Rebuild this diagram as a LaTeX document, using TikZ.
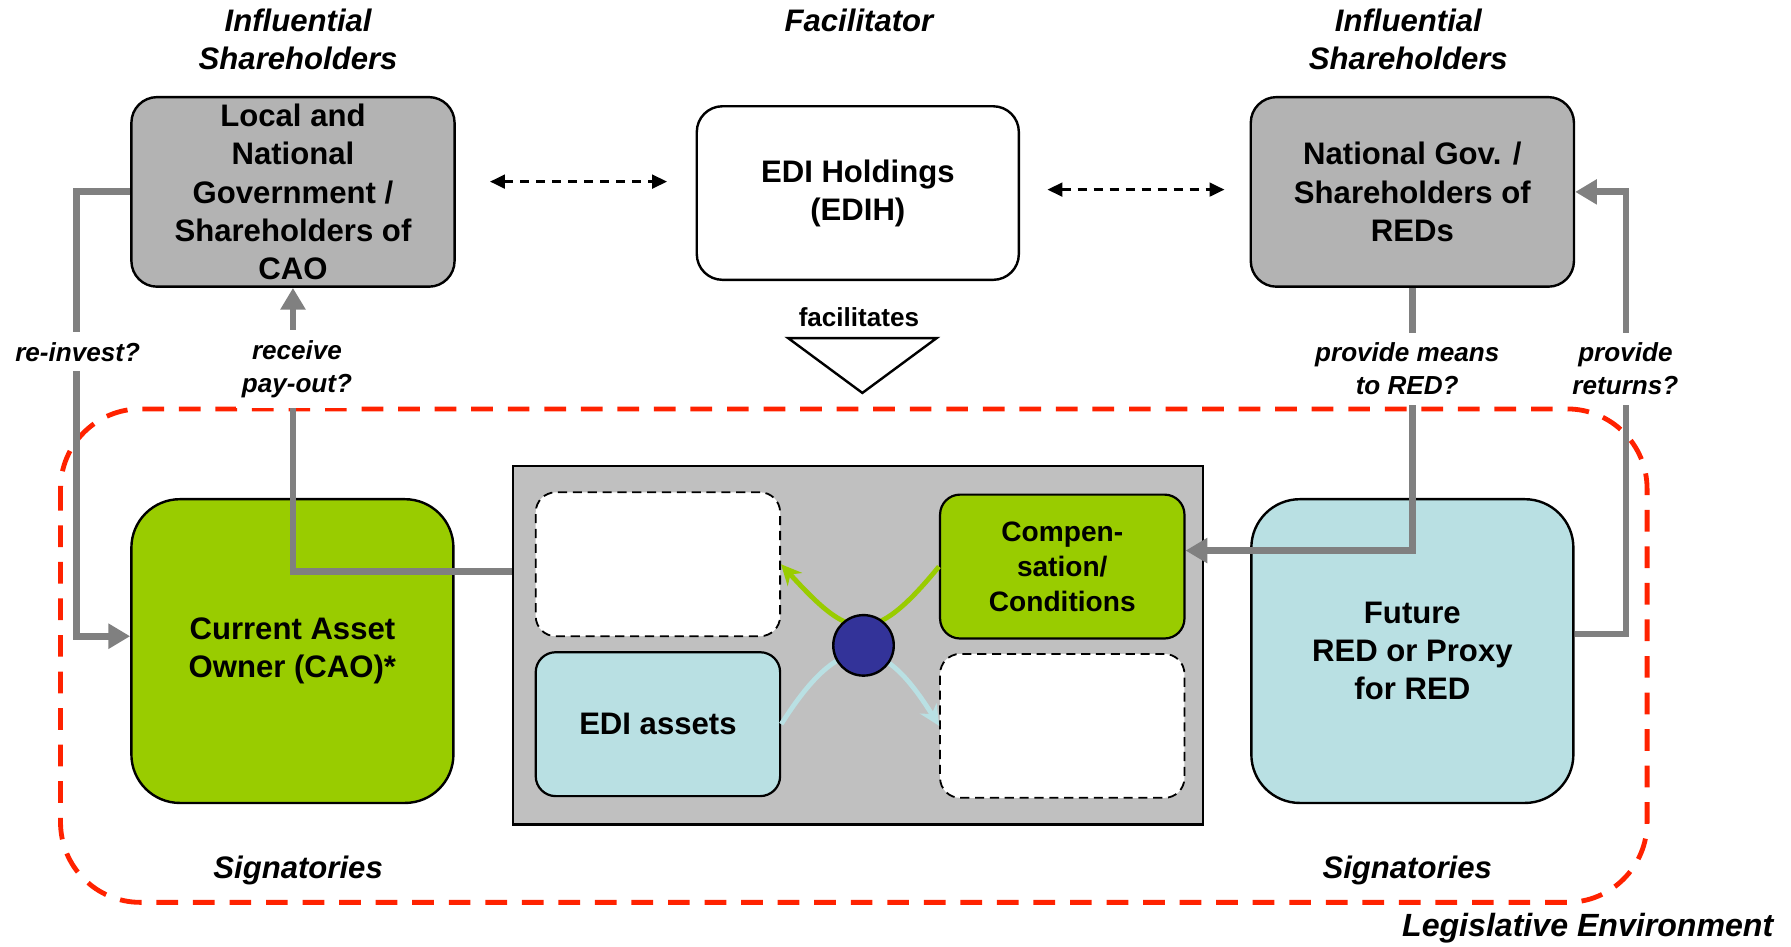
\documentclass[tikz,border=0pt]{standalone}
\usepackage{fontspec}
\setmainfont{Liberation Sans}
\usetikzlibrary{arrows.meta,calc}

\definecolor{leafgreen}{HTML}{99CC00}
\definecolor{paleblue}{HTML}{B9E0E3}
\definecolor{boxgray}{HTML}{B3B3B3}
\definecolor{panelgray}{HTML}{C0C0C0}
\definecolor{linkgray}{HTML}{808080}
\definecolor{hubblue}{HTML}{333399}
\definecolor{envred}{HTML}{FF2200}

\begin{document}
\begin{tikzpicture}[
    x=0.02cm, y=-0.02cm,
    every node/.style={align=center, inner sep=0pt},
    boxfont/.style={font=\fontsize{15.5}{19}\selectfont\bfseries},
    headfont/.style={font=\fontsize{15.5}{19}\selectfont\bfseries\itshape},
    actor/.style={draw, line width=1.2pt, rounded corners=0.45cm,
                  minimum width=5.66cm, minimum height=3.32cm, boxfont},
    party/.style={draw, line width=1.2pt, rounded corners=0.85cm,
                  minimum width=5.64cm, minimum height=5.32cm, boxfont},
    slot/.style={draw, line width=1.1pt, rounded corners=0.35cm,
                 minimum width=4.28cm, minimum height=2.52cm, boxfont},
    openslot/.style={slot, fill=white, line width=0.9pt,
                     dash pattern=on 0.16cm off 0.1cm},
    flow/.style={draw=linkgray, line width=3.4pt,
                 -{Triangle[length=0.38cm, width=0.42cm]}},
    flowlabel/.style={fill=white, inner xsep=3pt, inner ysep=5pt,
                      font=\fontsize{13}{16.5}\selectfont\bfseries\itshape},
    link/.style={line width=1.2pt, dash pattern=on 0.16cm off 0.12cm,
                 {Triangle[length=0.26cm, width=0.24cm]}-{Triangle[length=0.26cm, width=0.24cm]}},
    swap/.style={line width=2.4pt, -{Stealth[length=0.36cm, width=0.34cm]}},
]
\useasboundingbox (0,0) rectangle (1568,829);

\node[headfont] (lefthead) at (261,34.5) {Influential\\Shareholders};
\node[headfont] (midhead) at (752,18) {Facilitator};
\node[headfont] (righthead) at (1233,34.5) {Influential\\Shareholders};

\node[actor, fill=boxgray] (localgov) at (256.5,168)
      {Local and\\National\\Government /\\Shareholders of\\CAO};
\node[actor, fill=white, minimum width=5.64cm, minimum height=3.04cm] (edih)
      at (751,169) {EDI Holdings\\(EDIH)};
\node[actor, fill=boxgray] (natgov) at (1236.5,168)
      {National Gov. /\\Shareholders of\\REDs};

\draw[link] ($(localgov.east)+(30,-9)$) -- ($(edih.west)+(-25,-10)$);
\draw[link] ($(edih.east)+(24,-3)$) -- ($(natgov.west)+(-22,-2)$);

\node[font=\fontsize{13}{16}\selectfont\bfseries] (facil) at (752,278) {facilitates};
\draw[line width=1.2pt, fill=white] (690,296) -- (820,296) -- (755,344) -- cycle;

\draw[envred, line width=2.4pt, dash pattern=on 0.38cm off 0.26cm,
      rounded corners=1.4cm] (53,358) rectangle (1442,790);
\node[headfont] (leftsig) at (261,762) {Signatories};
\node[headfont] (rightsig) at (1232,762) {Signatories};
\node[headfont, font=\fontsize{16}{19}\selectfont\bfseries\itshape] (legal)
      at (1390,813) {Legislative Environment};

\node[party, fill=leafgreen] (cao) at (256,570) {Current Asset\\Owner (CAO)*};
\node[party, fill=paleblue] (futurered) at (1236.5,570)
      {Future\\RED or Proxy\\for RED};

\node[draw, line width=1.2pt, fill=panelgray, minimum width=12.08cm,
      minimum height=6.28cm] (deal) at (751,565) {};
\node[openslot] (giveslot) at (576,494) {};
\node[slot, fill=paleblue] (assets) at (576,634) {EDI assets};
\node[slot, fill=leafgreen, font=\fontsize{14}{17.5}\selectfont\bfseries] (comp)
      at (930,496) {Compen-\\sation/\\Conditions};
\node[openslot] (getslot) at (930,635.5) {};

\draw[swap, leafgreen] (comp.west) .. controls (763,568) and (744,560) .. (giveslot.east);
\draw[swap, paleblue] (assets.east) .. controls (740,545) and (775,560) .. (getslot.west);
\node[circle, draw, line width=1.2pt, fill=hubblue, minimum size=1.06cm] (hub)
      at (756,565) {};

\draw[flow] (localgov.west) -- ++(-47,0) |- ($(cao.west)+(0,-13)$);
\draw[flow] ($(deal.west)+(0,-65)$) -| (localgov.south);
\draw[flow] (natgov.south) |- ($(comp.east)+(0,-14)$);
\draw[flow] ($(futurered.east)+(0,-15)$) -- ++(45,0) |- (natgov.east);

\node[flowlabel] (reinvest) at (68,308) {re-invest?};
\node[flowlabel] (payout) at (260,323) {receive\\pay-out?};
\node[flowlabel] (means) at (1232,323) {provide means\\to RED?};
\node[flowlabel] (returns) at (1423,323) {provide\\returns?};

\end{tikzpicture}
\end{document}
